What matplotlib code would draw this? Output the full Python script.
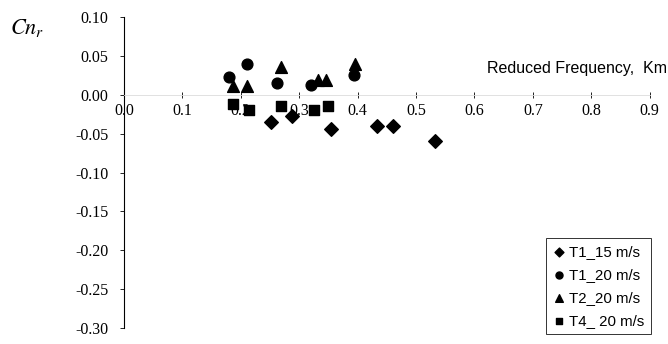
import numpy as np
import matplotlib.pyplot as plt

# data
t1_15_x = [0.252, 0.287, 0.354, 0.433, 0.460, 0.532]
t1_15_y = [-0.035, -0.027, -0.044, -0.040, -0.040, -0.060]
t1_20_x = [0.179, 0.211, 0.262, 0.320, 0.393]
t1_20_y = [0.023, 0.039, 0.015, 0.013, 0.026]
t2_20_x = [0.186, 0.210, 0.268, 0.332, 0.346, 0.396]
t2_20_y = [0.011, 0.011, 0.036, 0.019, 0.019, 0.039]
t4_20_x = [0.187, 0.214, 0.268, 0.325, 0.350]
t4_20_y = [-0.012, -0.019, -0.015, -0.020, -0.015]

x_ticks = [0.0, 0.1, 0.2, 0.3, 0.4, 0.5, 0.6, 0.7, 0.8, 0.9]
y_ticks = [0.10, 0.05, 0.00, -0.05, -0.10, -0.15, -0.20, -0.25, -0.30]

fig = plt.figure(figsize=(6.68, 3.44), dpi=100)
ax = fig.add_axes([0.1856, 0.0465, 0.787, 0.904])

ax.scatter(t1_15_x, t1_15_y, marker='D', s=48, color='black', label='T1_15 m/s', zorder=3)
ax.scatter(t1_20_x, t1_20_y, marker='o', s=60, color='black', label='T1_20 m/s', zorder=3)
ax.scatter(t2_20_x, t2_20_y, marker='^', s=72, color='black', label='T2_20 m/s', zorder=3)
ax.scatter(t4_20_x, t4_20_y, marker='s', s=54, color='black', label='T4_ 20 m/s', zorder=3)

ax.set_xlim(0, 0.9)
ax.set_ylim(-0.30, 0.10)

ax.spines['top'].set_visible(False)
ax.spines['right'].set_visible(False)
ax.spines['bottom'].set_position(('data', 0))
ax.spines['bottom'].set_color('#dcdcdc')
ax.spines['bottom'].set_linewidth(0.6)
ax.spines['left'].set_linewidth(0.8)

ax.set_xticks(x_ticks)
ax.set_xticklabels([f'{v:.1f}' for v in x_ticks], family='Liberation Serif', fontsize=11.5)
ax.set_yticks(y_ticks)
ax.set_yticklabels([f'{v:.2f}' for v in y_ticks], family='Liberation Serif', fontsize=11.5)
ax.tick_params(axis='x', direction='inout', length=4, width=0.6, pad=4)
ax.tick_params(axis='y', direction='out', length=3, width=0.6, pad=8)

fig.text(0.015, 0.92, r'$Cn_r$', fontsize=16, family='Liberation Serif',
         math_fontfamily='stix', va='center')
fig.text(0.998, 0.80, 'Reduced Frequency,  Km', fontsize=11.5,
         family='Liberation Sans', ha='right', va='center')

leg = ax.legend(loc='lower right', bbox_to_anchor=(1.016, -0.045), frameon=True,
                fancybox=False, edgecolor='black', handletextpad=0.25,
                handlelength=0.8, labelspacing=0.6, borderpad=0.45,
                prop={'family': 'Liberation Sans', 'size': 10.8}, markerscale=0.65)
leg.get_frame().set_linewidth(0.7)

fig.savefig('out.png', dpi=100)
